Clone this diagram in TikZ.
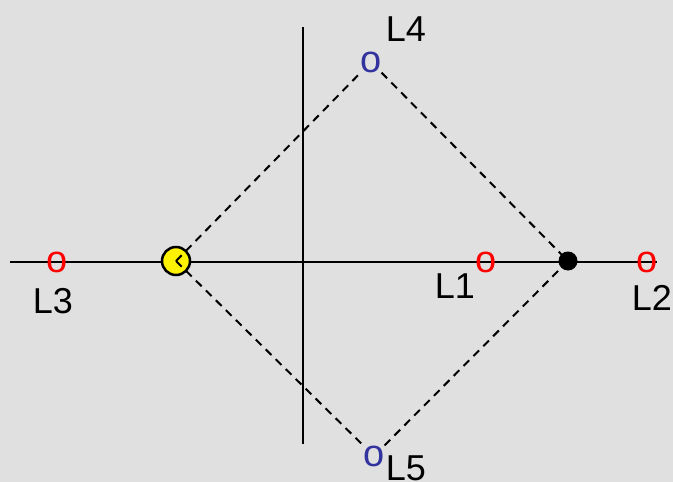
\documentclass[tikz,border=0pt]{standalone}
\usepackage{fontspec}
\setmainfont{Liberation Sans}
\definecolor{bg}{RGB}{224,224,224}
\definecolor{mred}{RGB}{255,0,0}
\definecolor{mblue}{RGB}{51,51,160}
\begin{document}
\begin{tikzpicture}[x=1pt,y=-1pt,
  axis/.style={line width=2pt,black},
  dashline/.style={line width=2pt,dash pattern=on 8pt off 6pt},
  mark red/.style={inner sep=0pt,text=mred,font=\fontsize{38}{38}\selectfont},
  mark blue/.style={inner sep=0pt,text=mblue,font=\fontsize{38}{38}\selectfont},
  lab/.style={inner sep=0pt,font=\fontsize{36}{36}\selectfont},
  ydot/.style={circle,draw=black,line width=2.5pt,fill=yellow,minimum size=28pt,inner sep=0pt},
  bdot/.style={circle,fill=black,minimum size=19pt,inner sep=0pt}]
\fill[bg] (0,0) rectangle (673,482);
\useasboundingbox (0,0) rectangle (673,482);
% axes
\coordinate (hl) at (10,262);
\coordinate (hr) at (657,262);
\coordinate (vt) at (303,27);
\coordinate (vb) at (303,444);
\draw[axis] (hl) -- (hr);
\draw[axis] (vt) -- (vb);
% points
\node[ydot] (Y) at (176,261) {};
\node[bdot] (B) at (568,261) {};
\node[mark red] (m3) at (57,262) {o};
\node[mark red] (m1) at (486,262) {o};
\node[mark red] (m2) at (647,262) {o};
\node[mark blue] (m4) at (371,62) {o};
\node[mark blue] (m5) at (374,456) {o};
% dashed lines
\draw[dashline] (Y.center) -- (m4);
\draw[dashline] (m4) -- (B.center);
\draw[dashline] (Y.center) -- (m5);
\draw[dashline] (m5) -- (B.center);
% labels
\node[lab] (L4) at (406,29) {L4};
\node[lab] (L5) at (406,468) {L5};
\node[lab] (L1) at (455,286) {L1};
\node[lab] (L2) at (652,298) {L2};
\node[lab] (L3) at (53,301) {L3};
\end{tikzpicture}
\end{document}
